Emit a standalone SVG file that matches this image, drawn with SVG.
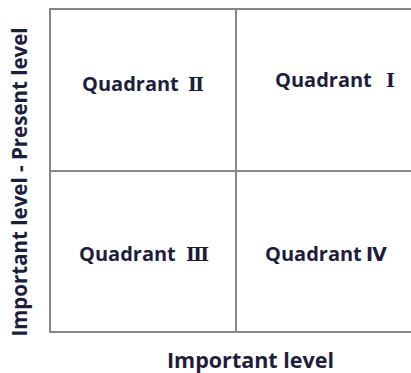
<svg xmlns="http://www.w3.org/2000/svg" width="411" height="373" viewBox="0 0 411 373">
  <style>
    .grid { fill: none; stroke: #878787; stroke-width: 2; }
    .q { font-family: "Open Sans", "Noto Sans", sans-serif; font-weight: bold; font-size: 20px; fill: #1e1e3c; }
    .num { font-family: "DejaVu Serif", "Liberation Serif", "Noto Sans CJK KR", serif; font-size: 19px; }
    .num-sans { font-family: "DejaVu Sans", "Noto Sans CJK KR", sans-serif; font-size: 19px; }
    .axis { font-family: "Open Sans", "Noto Sans", sans-serif; font-weight: bold; fill: #1e1e3c; text-anchor: middle; }
  </style>
  <rect width="411" height="373" fill="#ffffff"/>

  <!-- quadrant grid; the right side runs off the edge -->
  <g id="connectors">
    <path class="grid" d="M 420 9 H 50 V 332 H 420"/>
    <line class="grid" x1="236" y1="9" x2="236" y2="332"/>
    <line class="grid" x1="50" y1="171" x2="420" y2="171"/>
  </g>

  <g id="quadrant-2">
    <text class="q" x="82" y="90.5">Quadrant<tspan class="num" x="188">Ⅱ</tspan></text>
  </g>
  <g id="quadrant-1">
    <text class="q" x="275" y="87">Quadrant<tspan class="num" x="386">Ⅰ</tspan></text>
  </g>
  <g id="quadrant-3">
    <text class="q" x="79" y="260.5">Quadrant<tspan class="num" x="186">Ⅲ</tspan></text>
  </g>
  <g id="quadrant-4">
    <text class="q" x="265" y="260.5">Quadrant<tspan class="num-sans" x="366">Ⅳ</tspan></text>
  </g>

  <g id="axis-x">
    <text class="axis" x="250.5" y="367.5" font-size="21.5">Important level</text>
  </g>
  <g id="axis-y">
    <text class="axis" transform="translate(27 182) rotate(-90)" font-size="20.5">Important level - Present level</text>
  </g>
</svg>
